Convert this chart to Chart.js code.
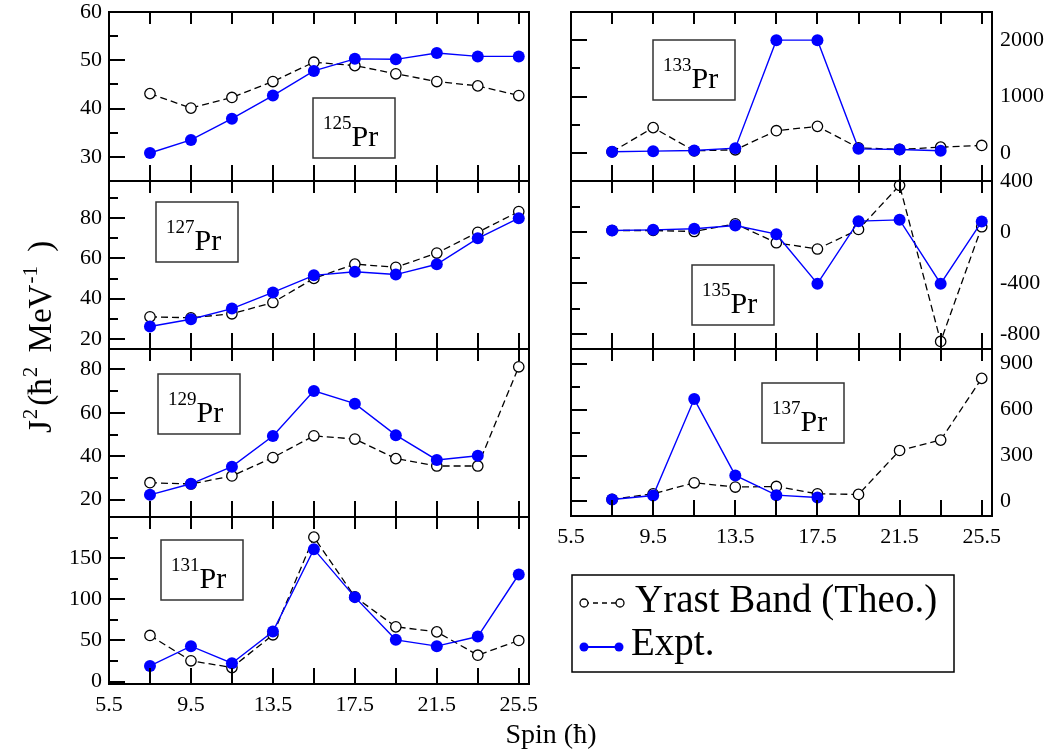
<!DOCTYPE html>
<html>
<head>
<meta charset="utf-8">
<title>Moment of inertia J2 of Pr isotopes</title>
<script src="https://cdn.jsdelivr.net/npm/chart.js@4.4.1/dist/chart.umd.min.js"></script>
<style>
  html, body { margin: 0; padding: 0; background: #fff; }
  #wrap { position: relative; width: 1052px; height: 753px; }
  #wrap canvas { position: absolute; left: 0; top: 0; }
</style>
</head>
<body>
<div id="wrap"></div>
<script>
// spin values (hbar) shared by all isotopes
const spins = [7.5, 9.5, 11.5, 13.5, 15.5, 17.5, 19.5, 21.5, 23.5, 25.5];
const spinLabels = [5.5, 9.5, 13.5, 17.5, 21.5, 25.5];
const spinMarks = [5.5, 7.5, 9.5, 11.5, 13.5, 15.5, 17.5, 19.5, 21.5, 23.5, 25.5];

// J2 values, yrast band (theory) and experiment
const theo125 = [43.1, 40.1, 42.3, 45.6, 49.6, 48.9, 47.2, 45.6, 44.7, 42.7];
const expt125 = [30.8, 33.5, 37.9, 42.7, 47.8, 50.3, 50.2, 51.5, 50.8, 50.8];

const theo127 = [31.0, 30.5, 32.5, 38.1, 50.1, 57.2, 55.6, 62.7, 73.0, 83.3];
const expt127 = [26.2, 29.8, 35.1, 43.1, 51.6, 53.4, 52.0, 57.1, 70.0, 80.0];

const theo129 = [27.8, 27.2, 30.9, 39.4, 49.4, 47.9, 38.9, 35.5, 35.5, 81.2];
const expt129 = [22.2, 27.3, 35.2, 49.3, 70.1, 64.2, 49.7, 38.3, 40.2, null];

const theo131 = [56, 25.2, 17, 56.8, 175.5, 103, 66.5, 60.4, 32, 49.9];
const expt131 = [19, 43, 22.3, 60.8, 160.9, 102.6, 50.7, 43, 54.7, 130.1];

const theo133 = [18, 447, 36, 54, 393, 470, 89, 60, 101, 131];
const expt133 = [18, 30, 42, 83, 2000, 2000, 71, 60, 36, null];

const theo135 = [13, 13, 5, 65, -83, -132, 21, 366, -855, 42];
const expt135 = [13, 18, 26, 52, -16, -403, 86, 96, -403, 83];

const theo137 = [13, 50, 122, 94, 98, 50, 46, 333, 401, 804];
const expt137 = [13, 39, 669, 170, 41, 26, null, null, null, null];

// y-axis labels per panel
const yTicks125 = [30, 40, 50, 60];
const yTicks127 = [20, 40, 60, 80];
const yTicks129 = [20, 40, 60, 80];
const yTicks131 = [0, 50, 100, 150];
const yTicks133 = [0, 1000, 2000];
const yTicks135 = [-800, -400, 0, 400];
const yTicks137 = [0, 300, 600, 900];

const W = 1052, H = 753;
const SERIF = "'Liberation Serif', 'DejaVu Serif', serif";
const BLUE = '#0000ff';
const Y_AXIS_W = 60, X_AXIS_H = 40;

const panels = [
  { mass: '125', theo: theo125, expt: expt125, yTicks: yTicks125, yMin: 25, yMax: 60, minor: 5,
    side: 'left', area: [109, 529, 12, 181], xLabels: false, tagAt: [313, 98] },
  { mass: '127', theo: theo127, expt: expt127, yTicks: yTicks127, yMin: 15, yMax: 98.5, minor: 10,
    side: 'left', area: [109, 529, 181, 349], xLabels: false, tagAt: [156, 202] },
  { mass: '129', theo: theo129, expt: expt129, yTicks: yTicks129, yMin: 12, yMax: 89.4, minor: 10,
    side: 'left', area: [109, 529, 349, 517], xLabels: false, tagAt: [158, 374] },
  { mass: '131', theo: theo131, expt: expt131, yTicks: yTicks131, yMin: -3, yMax: 200, minor: 25,
    side: 'left', area: [109, 529, 517, 684], xLabels: true, tagAt: [161, 540], figureText: true },
  { mass: '133', theo: theo133, expt: expt133, yTicks: yTicks133, yMin: -500, yMax: 2500, minor: 500,
    side: 'right', area: [571, 992, 12, 181], xLabels: false, tagAt: [653, 40] },
  { mass: '135', theo: theo135, expt: expt135, yTicks: yTicks135, yMin: -914, yMax: 400, minor: 200,
    side: 'right', area: [571, 992, 181, 349], xLabels: false, tagAt: [692, 265] },
  { mass: '137', theo: theo137, expt: expt137, yTicks: yTicks137, yMin: -95, yMax: 996, minor: 150,
    side: 'right', area: [571, 992, 349, 516], xLabels: true, tagAt: [762, 383] }
];

// frame, inward tick marks and the isotope tag
const framePlugin = {
  id: 'frame',
  afterDraw(chart, args, opts) {
    const ctx = chart.ctx;
    const { left, right, top, bottom } = chart.chartArea;
    const xs = chart.scales.x, ys = chart.scales.y;
    ctx.save();
    ctx.strokeStyle = '#000';
    ctx.lineWidth = 2;
    ctx.lineCap = 'butt';
    ctx.strokeRect(left, top, right - left, bottom - top);

    ctx.beginPath();
    spinMarks.forEach(v => {
      const px = Math.round(xs.getPixelForValue(v));
      ctx.moveTo(px, bottom); ctx.lineTo(px, bottom - 16);
      ctx.moveTo(px, top); ctx.lineTo(px, top + 12);
    });
    const step = opts.minor;
    for (let v = Math.ceil(ys.min / step) * step; v <= ys.max; v += step) {
      const py = Math.round(ys.getPixelForValue(v));
      const len = opts.major.includes(v) ? 16 : 9;
      ctx.moveTo(left, py); ctx.lineTo(left + len, py);
    }
    ctx.stroke();

    // isotope tag box
    const [bx, by] = opts.tagAt;
    ctx.fillStyle = '#fff';
    ctx.fillRect(bx, by, 82, 60);
    ctx.strokeStyle = '#333';
    ctx.lineWidth = 1.5;
    ctx.strokeRect(bx, by, 82, 60);
    ctx.fillStyle = '#000';
    ctx.textBaseline = 'alphabetic';
    ctx.textAlign = 'left';
    ctx.font = '19px ' + SERIF;
    ctx.fillText(opts.mass, bx + 10, by + 31);
    const sw = ctx.measureText(opts.mass).width;
    ctx.font = '30px ' + SERIF;
    ctx.fillText('Pr', bx + 10 + sw, by + 48);
    ctx.restore();
  }
};

// axis titles and the legend shared by the whole figure
const figureTextPlugin = {
  id: 'figureText',
  afterDraw(chart) {
    const ctx = chart.ctx;
    ctx.save();
    ctx.fillStyle = '#000';
    ctx.textAlign = 'center';
    ctx.textBaseline = 'alphabetic';
    ctx.font = '28px ' + SERIF;
    ctx.fillText('Spin (\u0127)', 551, 743);

    // J2 (hbar2 MeV-1), rotated
    ctx.translate(51, 433);
    ctx.rotate(-Math.PI / 2);
    ctx.textAlign = 'left';
    const parts = [['J', 0, 1], ['2', 1, 3], ['(\u0127', 0, 1], ['2', 1, 6], [' MeV', 0, 1], ['-1', 1, 6], [' )', 0, 0]];
    let x = 0;
    parts.forEach(([s, sup, gap]) => {
      ctx.font = (sup ? '21px ' : '33px ') + SERIF;
      ctx.fillText(s, x, sup ? -14 : 0);
      x += ctx.measureText(s).width + gap;
    });
    ctx.restore();

    // legend
    ctx.save();
    ctx.strokeStyle = '#000';
    ctx.lineWidth = 1.5;
    ctx.strokeRect(572, 575, 382, 97);

    ctx.lineWidth = 1.3;
    ctx.setLineDash([5, 4]);
    ctx.beginPath(); ctx.moveTo(584, 603); ctx.lineTo(620, 603); ctx.stroke();
    ctx.setLineDash([]);
    [584, 620].forEach(cx => {
      ctx.beginPath(); ctx.arc(cx, 603, 4, 0, Math.PI * 2);
      ctx.fillStyle = '#fff'; ctx.fill(); ctx.stroke();
    });

    ctx.strokeStyle = BLUE;
    ctx.fillStyle = BLUE;
    ctx.lineWidth = 2;
    ctx.beginPath(); ctx.moveTo(584, 647); ctx.lineTo(619, 647); ctx.stroke();
    [584, 619].forEach(cx => {
      ctx.beginPath(); ctx.arc(cx, 647, 4.5, 0, Math.PI * 2); ctx.fill();
    });

    ctx.fillStyle = '#000';
    ctx.font = '39px ' + SERIF;
    ctx.textBaseline = 'alphabetic';
    ctx.fillText('Yrast Band (Theo.)', 635, 612);
    ctx.fillText('Expt.', 631, 655);
    ctx.restore();
  }
};

const wrap = document.getElementById('wrap');

panels.forEach(p => {
  const cv = document.createElement('canvas');
  cv.width = W; cv.height = H;
  cv.style.width = W + 'px'; cv.style.height = H + 'px';
  wrap.appendChild(cv);

  const [l, r, t, b] = p.area;
  const xh = p.xLabels ? X_AXIS_H : 0;
  const padding = p.side === 'left'
    ? { left: l - Y_AXIS_W, right: W - r, top: t, bottom: H - b - xh }
    : { left: l, right: W - r - Y_AXIS_W, top: t, bottom: H - b - xh };

  const plugins = [framePlugin];
  if (p.figureText) plugins.push(figureTextPlugin);

  new Chart(cv, {
    type: 'line',
    data: {
      datasets: [{
        label: 'Expt.',
        data: spins.map((s, i) => ({ x: s, y: p.expt[i] })),
        borderColor: BLUE,
        backgroundColor: BLUE,
        borderWidth: 1.4,
        pointRadius: 6,
        pointBorderWidth: 0,
        pointBackgroundColor: BLUE,
        clip: false
      }, {
        label: 'Yrast Band (Theo.)',
        data: spins.map((s, i) => ({ x: s, y: p.theo[i] })),
        borderColor: '#000',
        borderWidth: 1.3,
        borderDash: [7, 4],
        pointRadius: 5.2,
        pointBorderWidth: 1.3,
        pointBorderColor: '#000',
        pointBackgroundColor: '#fff',
        clip: false
      }]
    },
    options: {
      responsive: false,
      animation: false,
      events: [],
      layout: { padding },
      plugins: {
        legend: { display: false },
        tooltip: { enabled: false },
        frame: { mass: p.mass, tagAt: p.tagAt, minor: p.minor, major: p.yTicks }
      },
      scales: {
        x: {
          type: 'linear',
          min: 5.5,
          max: 26,
          display: p.xLabels,
          grid: { display: false, drawTicks: false },
          border: { display: false },
          afterBuildTicks: s => { s.ticks = spinLabels.map(v => ({ value: v })); },
          afterFit: s => {
            s.height = xh;
            s.paddingLeft = 0; s.paddingRight = 0;
          },
          ticks: {
            autoSkip: false,
            maxRotation: 0,
            padding: 8,
            color: '#000',
            font: { family: SERIF, size: 22 },
            callback: v => v.toFixed(1)
          }
        },
        y: {
          type: 'linear',
          position: p.side,
          min: p.yMin,
          max: p.yMax,
          grid: { display: false, drawTicks: false },
          border: { display: false },
          afterBuildTicks: s => { s.ticks = p.yTicks.map(v => ({ value: v })); },
          afterFit: s => {
            s.width = Y_AXIS_W;
            s.paddingTop = 0; s.paddingBottom = 0;
          },
          ticks: {
            padding: p.side === 'left' ? 7 : 8,
            color: '#000',
            font: { family: SERIF, size: 22 },
            callback: v => String(v)
          }
        }
      }
    },
    plugins
  });
});
</script>
</body>
</html>
